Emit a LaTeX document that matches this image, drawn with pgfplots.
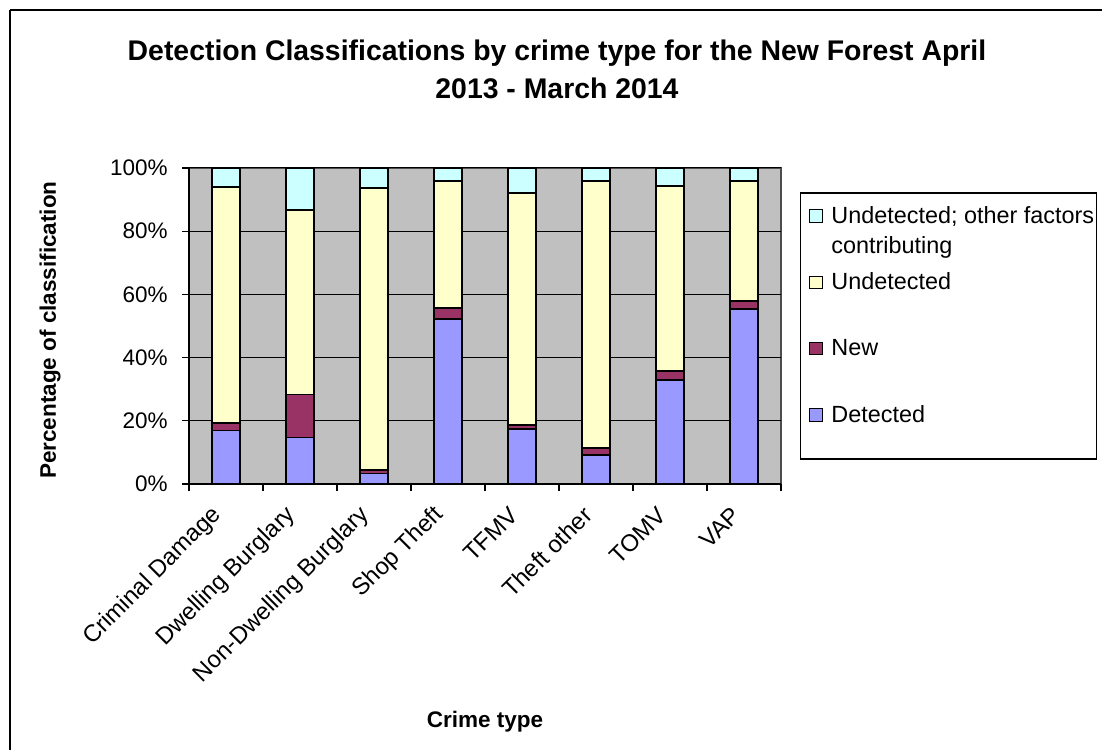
\documentclass[border=0pt]{standalone}
\usepackage{fontspec}
\setmainfont{Liberation Sans}
\usepackage{pgfplots}
\usepackage{pgfplotstable}
\pgfplotsset{compat=1.18}

\definecolor{detected}{HTML}{9999FF}
\definecolor{newcls}{HTML}{993366}
\definecolor{undet}{HTML}{FFFFCC}
\definecolor{undetother}{HTML}{CCFFFF}
\definecolor{plotbg}{HTML}{C0C0C0}

% Share of each detection classification (percent) per crime type
\pgfplotstableread{
x  det   new   und   oth
0  16.9  2.3   74.9  5.9
1  14.7  13.6  58.5  13.2
2  3.3   1.1   89.2  6.4
3  52.2  3.4   40.3  4.1
4  17.5  1.1   73.4  8.0
5  9.1   2.3   84.6  4.0
6  32.9  2.9   58.4  5.8
7  55.5  2.4   38.1  4.0
}\crimedata

\pgfplotsset{
  sqlegend/.style={legend image code/.code={%
      \path[draw=none,fill=none] (-4.2pt,0pt) -- (9pt,0pt);
      \draw[##1,/tikz/.cd,line width=0.5pt,draw=black] (0pt,0.5pt) rectangle (6.5pt,6.7pt);}},
}

\newcommand{\bodyfont}{\fontsize{11.25}{15}\selectfont}
\newcommand{\legfont}{\fontsize{11.7}{15}\selectfont}

\begin{document}
\begin{tikzpicture}
\useasboundingbox (0,0) rectangle (551pt,374.5pt);
% outer chart frame
\draw[line width=1pt] (5pt,369.5pt) -- (560pt,369.5pt);
\draw[line width=1pt] (5pt,369.5pt) -- (5pt,-10pt);

% title
\node[anchor=base, font=\fontsize{14.2}{17}\selectfont\bfseries] at (278.5pt,344.1pt)
  {Detection Classifications by crime type for the New Forest April};
\node[anchor=base, font=\fontsize{14.2}{17}\selectfont\bfseries] at (278.5pt,325.3pt)
  {2013 - March 2014};

\begin{axis}[
  at={(94.5pt,132.5pt)}, anchor=south west,
  scale only axis, width=296pt, height=158pt,
  ybar stacked, bar width=14.15pt,
  xmin=-0.5, xmax=7.5, ymin=0, ymax=100,
  axis background/.style={fill=plotbg, draw=gray!60!black, line width=0.6pt},
  axis x line*=bottom, axis y line*=left,
  axis line style={black, line width=0.6pt},
  tick align=outside, major tick length=3.5pt, minor tick length=3.5pt,
  tick style={black, line width=0.6pt},
  ytick={0,20,40,60,80,100},
  yticklabels={0\%,20\%,40\%,60\%,80\%,100\%},
  ymajorgrids, major grid style={black, line width=0.5pt},
  xtick={0,1,2,3,4,5,6,7},
  xticklabels={Criminal Damage,Dwelling Burglary,Non-Dwelling Burglary,Shop Theft,TFMV,Theft other,TOMV,VAP},
  major x tick style={draw=none},
  minor xtick={-0.5,0.5,...,7.5},
  yticklabel style={font=\bodyfont, anchor=east, inner sep=0pt, xshift=-7pt},
  xticklabel style={font=\fontsize{11.9}{15}\selectfont, anchor=east, inner sep=0pt, yshift=-10pt, xshift=-4pt, rotate=45},
  every axis y label/.style={at={(axis description cs:-0.2247,0.487)}, rotate=90, anchor=base},
  every axis x label/.style={at={(axis description cs:0.5,-0.769)}, anchor=base},
  label style={font=\bodyfont\bfseries},
  ylabel={Percentage of classification},
  xlabel={Crime type},
  reverse legend,
  legend style={at={(1.0331,0.8924)}, anchor=north west,
    draw=none, fill=none,
    inner xsep=0pt, inner ysep=0pt, row sep=19.3pt, column sep=0pt,
    font=\legfont,
    cells={anchor=base west, inner sep=0pt}},
]
\addplot[fill=detected, draw=black, line width=0.9pt, sqlegend] table[x=x, y=det] {\crimedata};
\addlegendentry{Detected}
\addplot[fill=newcls, draw=black, line width=0.9pt, sqlegend] table[x=x, y=new] {\crimedata};
\addlegendentry{New}
\addplot[fill=undet, draw=black, line width=0.9pt, sqlegend] table[x=x, y=und] {\crimedata};
\addlegendentry{Undetected}
\addplot[fill=undetother, draw=black, line width=0.9pt, sqlegend] table[x=x, y=oth] {\crimedata};
\addlegendentry{\vtop{\baselineskip=15pt\hbox{Undetected; other factors}\hbox{contributing}}}
\end{axis}
% legend frame
\draw[line width=0.6pt] (400.3pt,278pt) rectangle (548.3pt,145pt);
\end{tikzpicture}
\end{document}
